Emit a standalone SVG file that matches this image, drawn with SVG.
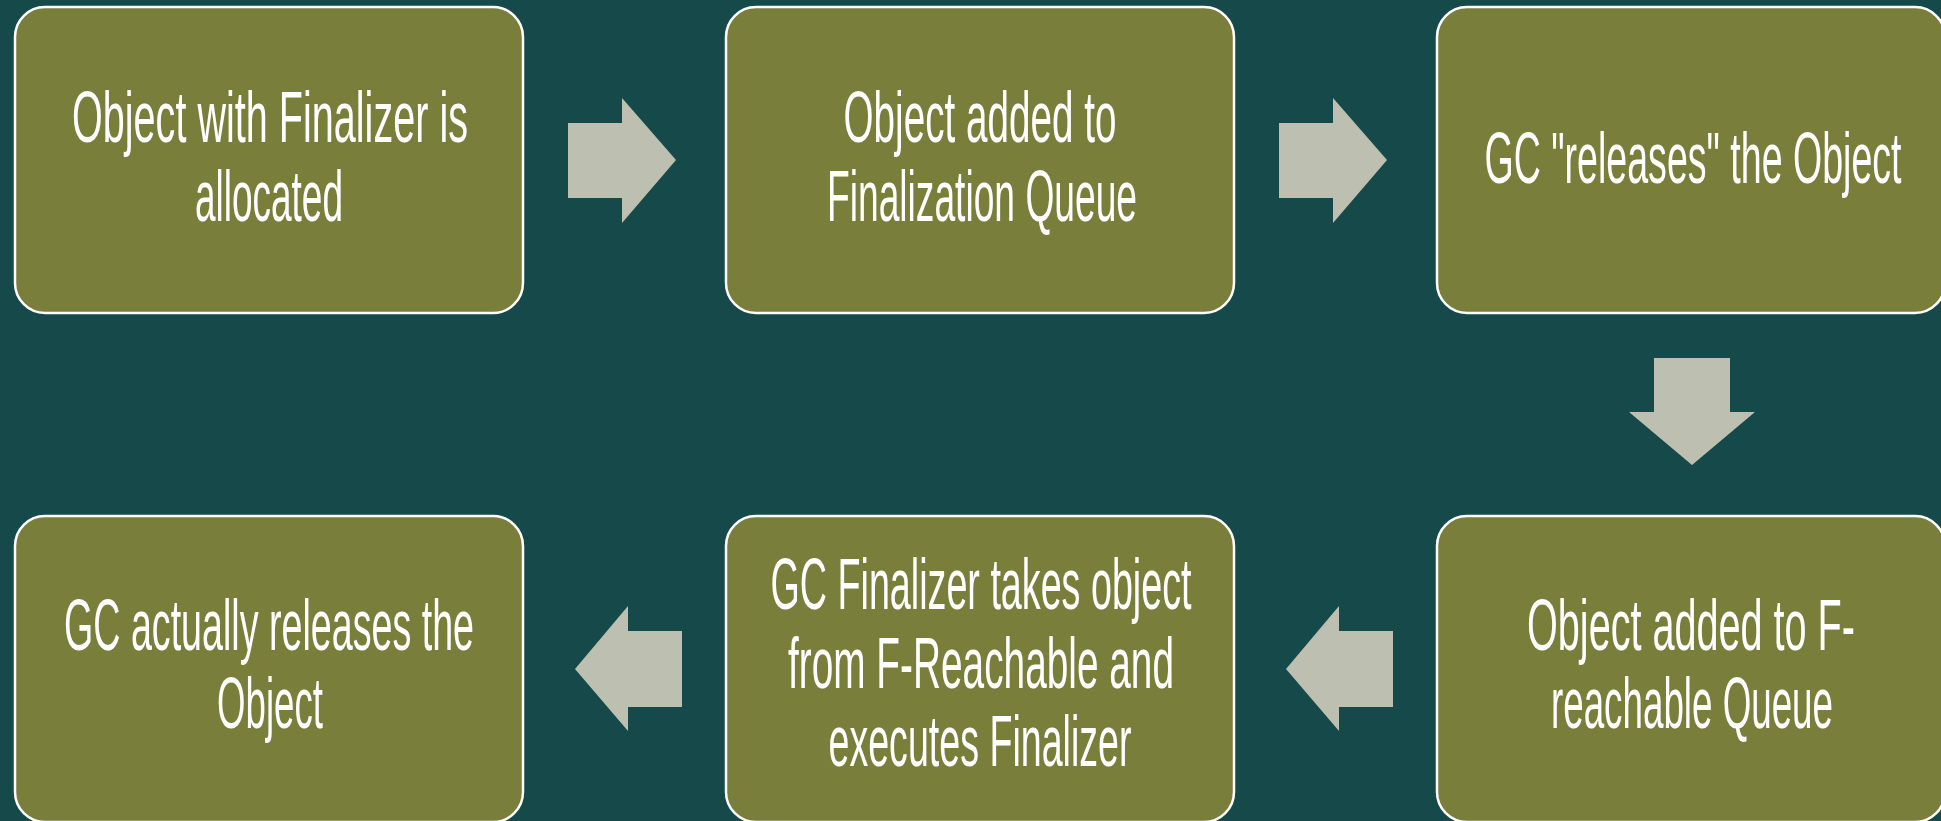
<svg xmlns="http://www.w3.org/2000/svg" width="1941" height="821" viewBox="0 0 1941 821">
<style>
.box{fill:#797E3A;stroke:#FFFFFF;stroke-width:2.5}
.t{fill:#FFFFFF;font-family:"Liberation Sans","Open Sans",sans-serif;font-size:73px;text-anchor:middle}
.arr{fill:#BDC0B0}
</style>
<rect width="1941" height="821" fill="#164A4A"/>
<g id="n1"><rect class="box" x="15" y="7" width="508" height="306" rx="30"/>
<text class="t" x="270" y="142" textLength="396" lengthAdjust="spacingAndGlyphs">Object with Finalizer is</text>
<text class="t" x="269" y="221" textLength="148" lengthAdjust="spacingAndGlyphs">allocated</text></g>
<g id="n2"><rect class="box" x="726" y="7" width="508" height="306" rx="30"/>
<text class="t" x="980" y="142" textLength="273" lengthAdjust="spacingAndGlyphs">Object added to</text>
<text class="t" x="982" y="221" textLength="310" lengthAdjust="spacingAndGlyphs">Finalization Queue</text></g>
<g id="n3"><rect class="box" x="1437" y="7" width="508" height="306" rx="30"/>
<text class="t" x="1693" y="183" textLength="417" lengthAdjust="spacingAndGlyphs">GC "releases" the Object</text></g>
<g id="n6"><rect class="box" x="1437" y="516" width="508" height="306" rx="30"/>
<text class="t" x="1691" y="650" textLength="328" lengthAdjust="spacingAndGlyphs">Object added to F-</text>
<text class="t" x="1692" y="728" textLength="282" lengthAdjust="spacingAndGlyphs">reachable Queue</text></g>
<g id="n5"><rect class="box" x="726" y="516" width="508" height="306" rx="30"/>
<text class="t" x="981" y="609" textLength="421" lengthAdjust="spacingAndGlyphs">GC Finalizer takes object</text>
<text class="t" x="981" y="688" textLength="386" lengthAdjust="spacingAndGlyphs">from F-Reachable and</text>
<text class="t" x="980" y="766" textLength="303" lengthAdjust="spacingAndGlyphs">executes Finalizer</text></g>
<g id="n4"><rect class="box" x="15" y="516" width="508" height="306" rx="30"/>
<text class="t" x="269" y="650" textLength="410" lengthAdjust="spacingAndGlyphs">GC actually releases the</text>
<text class="t" x="270" y="728" textLength="106" lengthAdjust="spacingAndGlyphs">Object</text></g>
<g id="connectors">
<polygon class="arr" points="568,123 622,123 622,98 676,160 622,223 622,198 568,198"/>
<polygon class="arr" points="1279,123 1333,123 1333,98 1387,160 1333,223 1333,198 1279,198"/>
<polygon class="arr" points="1654,358 1730,358 1730,412 1755,412 1692,465 1629,412 1654,412"/>
<polygon class="arr" points="1393,631 1339,631 1339,606 1286,669 1339,731 1339,707 1393,707"/>
<polygon class="arr" points="682,631 628,631 628,606 575,669 628,731 628,707 682,707"/>
</g>
</svg>
